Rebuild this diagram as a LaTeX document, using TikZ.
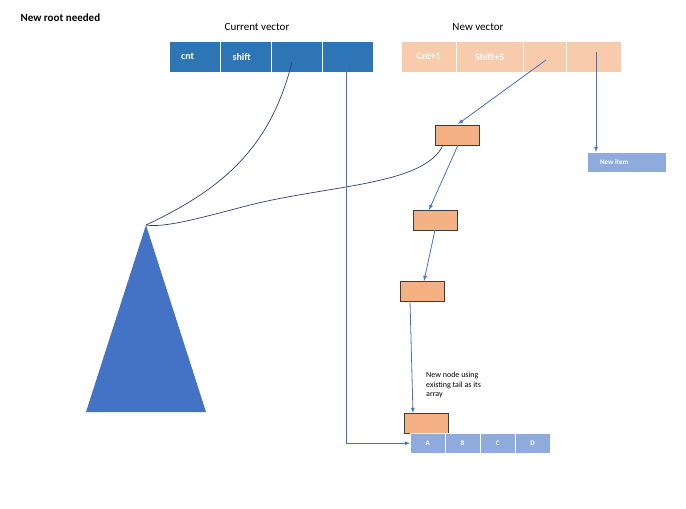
\documentclass[tikz,border=0pt]{standalone}
\usepackage{fontspec}
\setmainfont{Carlito}
\definecolor{curc}{RGB}{46,117,182}
\definecolor{nvc}{RGB}{248,203,173}
\definecolor{obc}{RGB}{244,177,131}
\definecolor{lbc}{RGB}{143,170,220}
\definecolor{lnc}{RGB}{68,114,196}
\definecolor{cvc}{RGB}{47,62,110}
\definecolor{bdc}{RGB}{60,60,60}
\begin{document}
\begin{tikzpicture}[x=1pt,y=-1pt,
 cur/.style={draw=white,fill=curc,text=white,font=\bfseries\fontsize{10}{12}\selectfont,minimum height=31pt,inner sep=0pt,anchor=north west},
 nv/.style={draw=white,fill=nvc,text=white,font=\bfseries\fontsize{10}{12}\selectfont,minimum height=31pt,inner sep=0pt,anchor=north west},
 ob/.style={draw=bdc,fill=obc,minimum width=44pt,minimum height=20pt,inner sep=0pt,anchor=north west},
 lb/.style={draw=white,fill=lbc,text=white,font=\bfseries\fontsize{7}{8}\selectfont,minimum height=20pt,inner sep=0pt,anchor=north west},
 ln/.style={draw=lnc,line width=0.8pt},
 ar/.style={ln,-latex},
 cv/.style={draw=cvc,line width=0.7pt}]
\useasboundingbox (0,0) rectangle (686,509);
\node[font=\bfseries\fontsize{11}{13}\selectfont,anchor=west] (t0) at (17,18) {New root needed};
\node[font=\fontsize{11}{13}\selectfont] (t1) at (257,27) {Current vector};
\node[font=\fontsize{11}{13}\selectfont] (t2) at (478,27) {New vector};
\node[cur,minimum width=51pt] (c1) at (169,41) {\hspace*{-14pt}cnt};
\node[cur,minimum width=51pt] (c2) at (220,41) {\hspace*{-8pt}shift};
\node[cur,minimum width=51pt] (c3) at (271,41) {};
\node[cur,minimum width=51pt] (c4) at (322,41) {};
\node[nv,minimum width=55pt] (n1) at (401,41) {Cnt+1};
\node[nv,minimum width=67pt] (n2) at (456,41) {Shift+5};
\node[nv,minimum width=43pt] (n3) at (523,41) {};
\node[nv,minimum width=55pt] (n4) at (566,41) {};
\node[ob] (b1) at (435,125) {};
\node[ob] (b2) at (413,210) {};
\node[ob] (b3) at (400,281) {};
\node[ob] (b4) at (404,413) {};
\node[lb,minimum width=79pt] (ni) at (587,152) {\hspace*{-25pt}New item};
\node[lb,minimum width=35pt] (a) at (410,433) {A};
\node[lb,minimum width=35pt] (b) at (445,433) {B};
\node[lb,minimum width=35pt] (c) at (480,433) {C};
\node[lb,minimum width=35pt] (d) at (515,433) {D};
\node[font=\fontsize{8}{9.5}\selectfont,align=left,anchor=north west,inner sep=0pt] (tx) at (426,372) {New node using\\existing tail as its\\array};
\fill[lnc] (146,225) -- (206,412) -- (86,412) -- cycle;
\coordinate (apex) at (146,225);
\draw[cv] (292,62) .. controls (270,150) and (220,190) .. (apex);
\draw[cv] (443,145) .. controls (425,185) and (330,185) .. (250,205) .. controls (200,218) and (165,228) .. (apex);
\draw[ar] (346,62) |- (a.west);
\draw[ar] (546,60) -- (458,124);
\draw[ar] (596,52) -- (596,152);
\draw[ar] (458,145) -- (429,210);
\draw[ar] (435,230) -- (424,281);
\draw[ar] (410,301) -- (413,413);
\end{tikzpicture}
\end{document}
